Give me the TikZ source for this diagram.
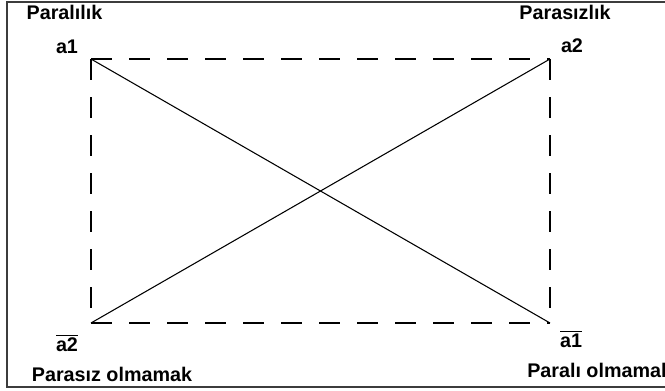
\documentclass[tikz,border=0pt]{standalone}
\usepackage{fontspec}
\setmainfont{Liberation Sans}
\usepackage{tikz}
\usetikzlibrary{positioning}
\definecolor{framegray}{HTML}{3C3C3C}
\tikzset{
  lbl/.style    = {font=\fontsize{14.8}{17}\selectfont\bfseries,inner sep=0pt,anchor=base},
  frameln/.style = {draw=framegray,line width=1.5pt},
  dashln/.style = {line width=1.5pt,dash pattern=on 16pt off 12.5pt},
  diag/.style   = {line width=0.8pt},
}
\newcommand{\barlbl}[1]{$\overline{\mbox{#1}}$}

\begin{document}
\begin{tikzpicture}[x=0.75pt,y=-0.75pt]
  \useasboundingbox (0,0) rectangle (665,390);
  \clip (0,0) rectangle (665,390);
  % outer frame
  \draw[frameln] (665,1.5) -- (7,1.5) -- (7,386.5) -- (665,386.5);
  % corners of the square of opposition
  \coordinate (tl) at (91,59);
  \coordinate (tr) at (550,59);
  \coordinate (bl) at (91,323);
  \coordinate (br) at (550,323);
  \draw[dashln] (tl) -- (tr);
  \draw[dashln] (tl) -- (bl);
  \draw[dashln] (bl) -- (br);
  \draw[dashln] (tr) -- (br);
  \draw[diag] (tl) -- (br);
  \draw[diag] (tr) -- (bl);
  % labels
  \node[lbl] (paral)   at (64.5,19.5) {Paralılık};
  \node[lbl] (a1)      at (67,53)     {a1};
  \node[lbl] (parasiz) at (565,19.5)  {Parasızlık};
  \node[lbl] (a2)      at (572,52)    {a2};
  \node[lbl] (a2bar)   at (67,351)    {\barlbl{a2}};
  \node[lbl] (parasizol) at (112,381) {Parasız olmamak};
  \node[lbl] (a1bar)   at (571,347)   {\barlbl{a1}};
  \node[lbl,anchor=base west] (paralol) at (527,377) {Paralı olmamak};
\end{tikzpicture}
\end{document}
